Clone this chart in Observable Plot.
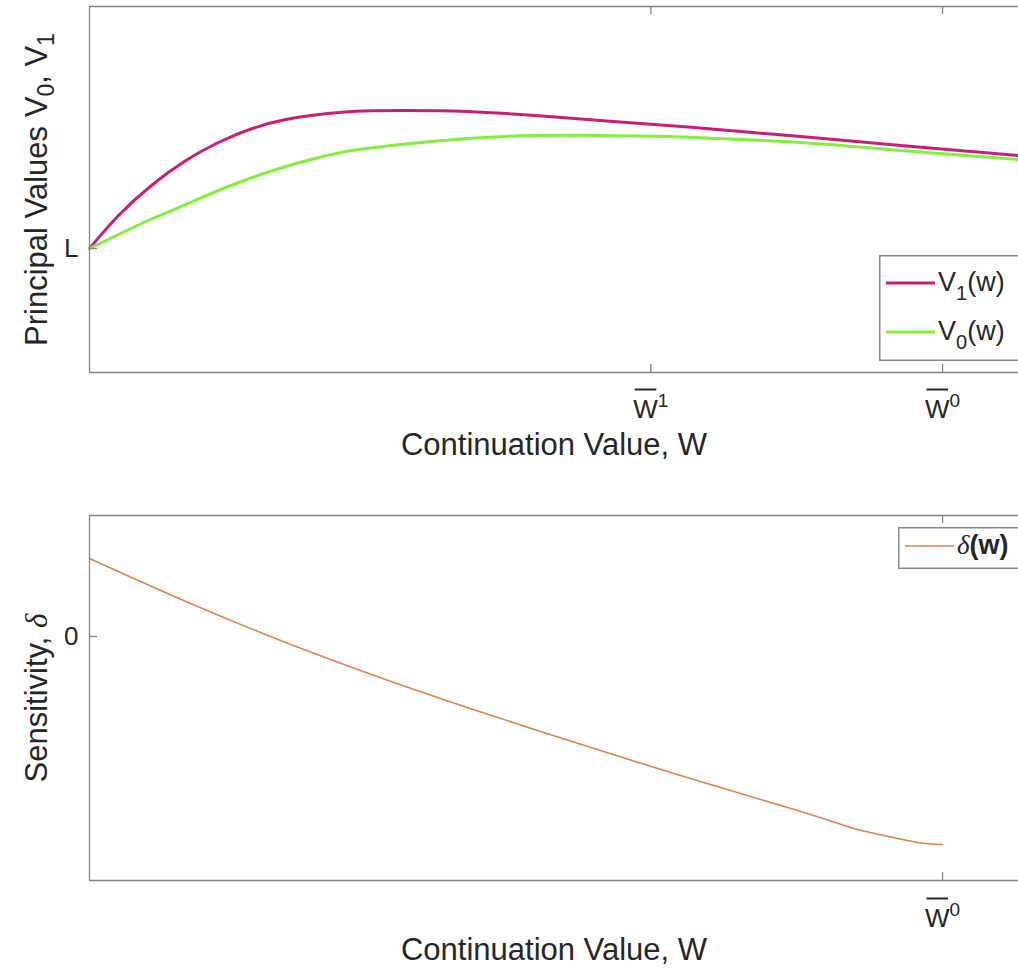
<!DOCTYPE html>
<html><head><meta charset="utf-8">
<script src="https://cdn.jsdelivr.net/npm/d3@7"></script>
<script src="https://cdn.jsdelivr.net/npm/@observablehq/plot@0.6"></script>
<style>
body{margin:0;background:#fff;font-family:"Liberation Sans",Arial,sans-serif;color:#262626}
#wrap{position:relative;width:1018px;height:976px;overflow:hidden;background:#fff}
#wrap svg.lg{position:absolute;overflow:visible}
</style></head>
<body><div id="wrap"></div>
<script>
// ---- data (top panel) ----
const wTop = [0, 0.034, 0.074, 0.113, 0.151, 0.191, 0.230, 0.269, 0.308, 0.365, 0.443, 0.521, 0.599, 0.678, 0.736, 0.834, 0.951, 1.089];
const v1   = [0, 0.33, 0.64, 0.88, 1.06, 1.20, 1.29, 1.34, 1.37, 1.38, 1.37, 1.33, 1.28, 1.23, 1.19, 1.12, 1.03, 0.93];
const v0   = [0, 0.14, 0.30, 0.44, 0.58, 0.71, 0.82, 0.91, 0.98, 1.04, 1.10, 1.13, 1.13, 1.12, 1.10, 1.06, 0.98, 0.89];
// ---- data (bottom panel) ----
const wBot  = [0, 0.113, 0.230, 0.347, 0.464, 0.599, 0.716, 0.834, 0.892, 0.931, 0.971, 1.0];
const delta = [0.78, 0.35, -0.06, -0.43, -0.77, -1.14, -1.45, -1.75, -1.91, -1.99, -2.06, -2.08];
// ---- ticks ----
const xTicksTop = [0.658, 1];
const xTickSupTop = ["1", "0"];
const xTicksBot = [1];
const xTickSupBot = ["0"];
const yTicksTop = [0];
const yTickLabelsTop = ["L"];
const yTicksBot = [0];
const yTickLabelsBot = ["0"];
const xLabel = "Continuation Value, W";
const yLabelTop = "Principal Values V0, V1";
const yLabelBot = "Sensitivity, δ";

const MAG = "#c81e78", GRN = "#80f03a", ORG = "#e3804f", AX = "#858585", TXT = "#262626";
const FONT = "Liberation Sans, Arial, sans-serif";
const xDomain = [0, 1.089];
const W = 1018;

function panel({height, mt, mb, yDomain, data, lines, xTicks, xSup, yTicks, yLabs, yLab, xLabDy, wDy}) {
  const plotW = W - 89, plotH = height - mt - mb;
  const tlx = 8 * (xDomain[1] - xDomain[0]) / plotW;
  const tly = 8 * (yDomain[1] - yDomain[0]) / plotH;
  return Plot.plot({
    width: W, height, marginLeft: 89, marginRight: 0, marginTop: mt, marginBottom: mb,
    x: {domain: xDomain, axis: null},
    y: {domain: yDomain, axis: null},
    style: {fontFamily: FONT, color: TXT, background: "white", overflow: "visible"},
    marks: [
      ...lines.map(l => Plot.line(data, {x: "w", y: l.key, stroke: l.color, strokeWidth: l.sw, curve: "natural"})),
      Plot.ruleY([yDomain[1]], {stroke: AX, strokeWidth: 1.3}),
      Plot.ruleY([yDomain[0]], {stroke: AX, strokeWidth: 1.3}),
      Plot.ruleX([xDomain[0]], {stroke: AX, strokeWidth: 1.3}),
      Plot.ruleX(xTicks, {x: d => d, y1: yDomain[0], y2: yDomain[0] + tly, stroke: AX, strokeWidth: 1.3}),
      Plot.ruleX(xTicks, {x: d => d, y1: yDomain[1] - tly, y2: yDomain[1], stroke: AX, strokeWidth: 1.3}),
      Plot.ruleY(yTicks, {y: d => d, x1: xDomain[0], x2: xDomain[0] + tlx, stroke: AX, strokeWidth: 1.3}),
      Plot.text(yTicks, {x: xDomain[0], y: d => d, text: (d, i) => yLabs[i], textAnchor: "end", dx: -11, fontSize: 26, fill: TXT}),
      Plot.text(xTicks, {x: d => d, frameAnchor: "bottom", dy: wDy, text: (d, i) => "W" + xSup[i], fontSize: 26, fill: TXT, ariaDescription: "wlab"}),
      Plot.text([xLabel], {frameAnchor: "bottom", dy: xLabDy, text: d => d, fontSize: 31, fill: TXT}),
      Plot.text([yLab], {frameAnchor: "left", textAnchor: "middle", rotate: -90, dx: -52, text: d => d, fontSize: 31, fill: TXT, ariaDescription: "ylab"})
    ]
  });
}

const wrap = document.getElementById("wrap");

const topData = wTop.map((w, i) => ({w, v1: v1[i], v0: v0[i]}));
const topPlot = panel({
  height: 490, mt: 6, mb: 118, yDomain: [-1.24, 2.42], data: topData,
  lines: [{key: "v1", color: MAG, sw: 3}, {key: "v0", color: GRN, sw: 3}],
  xTicks: xTicksTop, xSup: xTickSupTop, yTicks: yTicksTop, yLabs: yTickLabelsTop, yLab: yLabelTop, xLabDy: 82, wDy: 45
});
const botData = wBot.map((w, i) => ({w, d: delta[i]}));
const botPlot = panel({
  height: 486, mt: 25, mb: 96, yDomain: [-2.44, 1.21], data: botData,
  lines: [{key: "d", color: ORG, sw: 1.6}],
  xTicks: xTicksBot, xSup: xTickSupBot, yTicks: yTicksBot, yLabs: yTickLabelsBot, yLab: yLabelBot, xLabDy: 79, wDy: 46
});
topPlot.style.display = "block"; botPlot.style.display = "block";
wrap.appendChild(topPlot);
wrap.appendChild(botPlot);

function sel(svg, key) {
  return d3.select(svg).selectAll(`[aria-description="${key}"] text, text[aria-description="${key}"], [aria-label="${key}"] text, text[aria-label="${key}"]`);
}

// superscripts + overline on W tick labels
function fixW(svg) {
  sel(svg, "wlab").each(function () {
    const t = this.textContent;
    this.textContent = "";
    const s = d3.select(this);
    s.append("tspan").text(t[0]);
    s.append("tspan").attr("dy", -11).attr("font-size", 19).text(t.slice(1));
    const ext = this.getExtentOfChar(0);
    const ln = document.createElementNS("http://www.w3.org/2000/svg", "line");
    ln.setAttribute("x1", ext.x + 1.5);
    ln.setAttribute("x2", ext.x + ext.width - 1.5);
    ln.setAttribute("y1", ext.y - 4);
    ln.setAttribute("y2", ext.y - 4);
    ln.setAttribute("stroke", TXT);
    ln.setAttribute("stroke-width", 2);
    if (this.getAttribute("transform")) ln.setAttribute("transform", this.getAttribute("transform"));
    this.parentNode.appendChild(ln);
  });
}
fixW(topPlot); fixW(botPlot);

sel(topPlot, "ylab").html(
  'Principal Values V<tspan dy="7" font-size="23">0</tspan><tspan dy="-7">, V</tspan><tspan dy="7" font-size="23">1</tspan>');
sel(botPlot, "ylab").html(
  'Sensitivity, <tspan font-family="Liberation Serif, serif" font-style="italic">δ</tspan>');

// legends
function legend(left, top, h, rows) {
  const svg = d3.select(wrap).append("svg").attr("class", "lg")
    .style("left", left + "px").style("top", top + "px")
    .attr("width", 200).attr("height", h);
  svg.append("rect").attr("x", 0.75).attr("y", 0.75).attr("width", 300).attr("height", h - 1.5)
    .attr("fill", "white").attr("stroke", "#8a8a8a").attr("stroke-width", 1.5);
  rows.forEach(r => {
    svg.append("line").attr("x1", 7).attr("x2", 56).attr("y1", r.y).attr("y2", r.y)
      .attr("stroke", r.color).attr("stroke-width", r.sw);
    svg.append("text").attr("x", 59).attr("y", r.y + 8).attr("font-size", 27)
      .attr("font-family", FONT).attr("fill", TXT).html(r.html);
  });
}
legend(879, 255, 106, [
  {y: 28, color: MAG, sw: 3, html: 'V<tspan dy="9" font-size="20">1</tspan><tspan dy="-9">(w)</tspan>'},
  {y: 77, color: GRN, sw: 3, html: 'V<tspan dy="9" font-size="20">0</tspan><tspan dy="-9">(w)</tspan>'}
]);
legend(898, 527, 42, [
  {y: 19, color: ORG, sw: 1.6, html: '<tspan font-family="Liberation Serif, serif" font-style="italic">δ</tspan><tspan font-weight="bold">(w)</tspan>'}
]);
</script>
</body></html>
